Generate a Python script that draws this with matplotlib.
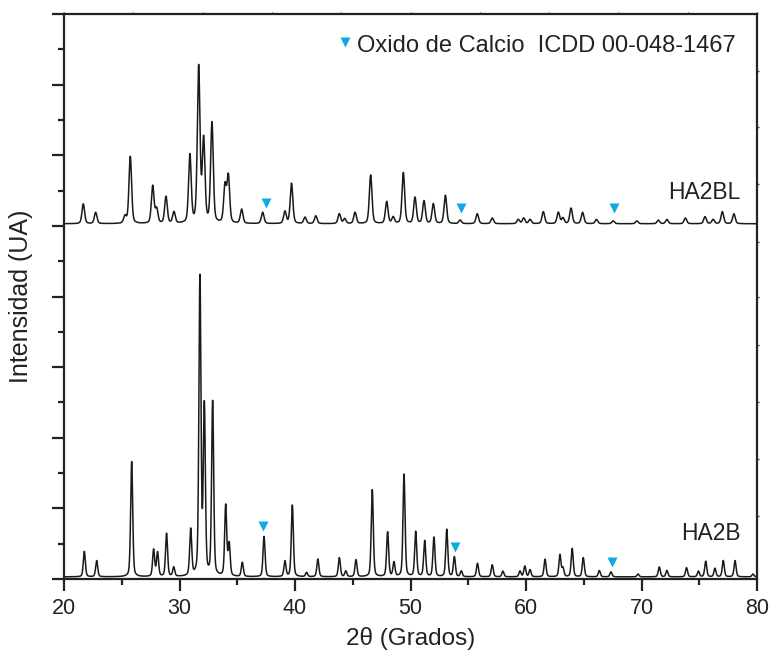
import numpy as np
import matplotlib
matplotlib.use('Agg')
import matplotlib.pyplot as plt
from matplotlib.ticker import MultipleLocator, FixedLocator, NullFormatter

plt.rcParams['font.family'] = ['Liberation Sans', 'DejaVu Sans']

# ---------------- data ----------------
# HA2B (bottom pattern): peak positions (2theta, deg) and heights (a.u.)
ha2b_pos = [21.76, 22.83, 25.86, 27.76, 28.10, 28.88, 29.50, 30.97, 31.77, 32.15,
            32.87, 34.00, 34.30, 35.44, 37.32, 39.13, 39.77, 41.00, 41.98, 43.84,
            44.40, 45.28, 46.69, 48.02, 48.57, 49.44, 50.45, 51.23, 52.03, 53.14,
            53.80, 54.40, 55.80, 57.08, 58.00, 59.48, 59.90, 60.35, 61.65, 62.94,
            63.20, 64.00, 64.96, 66.35, 67.36, 69.70, 71.54, 72.20, 73.90, 74.93,
            75.56, 76.36, 77.08, 78.10, 79.65]
ha2b_int = [0.36, 0.23, 1.63, 0.38, 0.34, 0.61, 0.13, 0.66, 4.24, 2.38,
            2.48, 1.00, 0.45, 0.20, 0.57, 0.22, 1.02, 0.06, 0.25, 0.27,
            0.08, 0.24, 1.24, 0.63, 0.20, 1.45, 0.64, 0.51, 0.56, 0.67,
            0.28, 0.08, 0.19, 0.17, 0.08, 0.08, 0.15, 0.10, 0.25, 0.31,
            0.12, 0.40, 0.27, 0.09, 0.07, 0.04, 0.14, 0.09, 0.13, 0.08,
            0.22, 0.12, 0.23, 0.23, 0.04]

# HA2BL (top pattern, stacked)
ha2bl_pos = [21.67, 22.74, 25.28, 25.74, 27.68, 28.02, 28.83, 29.52, 30.90, 31.66,
             32.09, 32.81, 33.94, 34.23, 35.38, 37.20, 39.13, 39.70, 40.87, 41.80,
             43.84, 44.30, 45.20, 46.55, 47.94, 48.50, 49.38, 50.39, 51.17, 51.98,
             53.02, 54.30, 55.78, 57.08, 59.33, 59.80, 60.35, 61.50, 62.80, 63.20,
             63.90, 64.90, 66.10, 67.55, 69.60, 71.46, 72.20, 73.80, 75.50, 76.20,
             77.00, 78.00]
ha2bl_int = [0.28, 0.16, 0.10, 0.95, 0.53, 0.20, 0.38, 0.16, 0.96, 2.20,
             1.16, 1.42, 0.52, 0.66, 0.20, 0.16, 0.17, 0.57, 0.09, 0.11,
             0.14, 0.07, 0.16, 0.69, 0.31, 0.09, 0.72, 0.37, 0.32, 0.28,
             0.40, 0.05, 0.14, 0.08, 0.06, 0.08, 0.06, 0.17, 0.16, 0.08,
             0.22, 0.16, 0.06, 0.04, 0.04, 0.05, 0.06, 0.08, 0.10, 0.06,
             0.17, 0.14]

baseline_ha2b = 0.03
offset_ha2bl = 5.03

# CaO (ICDD 00-048-1467) reflection markers
cao_ha2b_x = [37.25, 53.85, 67.45]
cao_ha2b_y = [0.75, 0.45, 0.24]
cao_ha2bl_x = [37.45, 54.35, 67.65]
cao_ha2bl_y = [5.33, 5.25, 5.25]

series_labels = ['HA2B', 'HA2BL']
legend_label = 'Oxido de Calcio  ICDD 00-048-1467'
xlabel = '2θ (Grados)'
ylabel = 'Intensidad (UA)'
xticks = [20, 30, 40, 50, 60, 70, 80]

# ---------------- profile builder ----------------
def pattern(x, pos, inten, fwhm, base, eta=0.35):
    y = np.full_like(x, base)
    for p, h in zip(pos, inten):
        d = (x - p) / (fwhm / 2.0)
        g = np.exp(-np.log(2) * d ** 2)
        lo = 1.0 / (1.0 + d ** 2)
        y += h * (eta * lo + (1 - eta) * g)
    return y

tt = np.arange(20.0, 80.0001, 0.02)
y_ha2b = pattern(tt, ha2b_pos, ha2b_int, 0.21, baseline_ha2b)
y_ha2bl = pattern(tt, ha2bl_pos, ha2bl_int, 0.27, offset_ha2bl)

# ---------------- figure ----------------
W, H = 772, 660
fig = plt.figure(figsize=(W / 100, H / 100), dpi=100)
ax = fig.add_axes([64 / W, 1 - 579 / H, (757 - 64) / W, (579 - 14) / H])

ax.plot(tt, y_ha2b, color='#1a1a1a', lw=1.1)
ax.plot(tt, y_ha2bl, color='#1a1a1a', lw=1.1)

cyan = '#12A8E0'
ax.plot(cao_ha2b_x, cao_ha2b_y, 'v', color=cyan, ms=7.5, mec='none')
ax.plot(cao_ha2bl_x, cao_ha2bl_y, 'v', color=cyan, ms=7.5, mec='none')

ax.set_xlim(20, 80)
ax.set_ylim(0, 8)

for s in ax.spines.values():
    s.set_linewidth(1.6)
    s.set_color('#222222')

ax.xaxis.set_major_locator(FixedLocator(xticks))
ax.xaxis.set_minor_locator(MultipleLocator(5))
ax.yaxis.set_major_locator(MultipleLocator(1))
ax.yaxis.set_minor_locator(MultipleLocator(0.5))
ax.yaxis.set_major_formatter(NullFormatter())
ax.tick_params(axis='both', which='major', direction='out', length=8.5, width=1.6,
               color='#222222', labelsize=15.5, pad=5)
ax.tick_params(axis='both', which='minor', direction='out', length=4.3, width=1.6,
               color='#222222')
ax.tick_params(axis='x', labelcolor='#222222')

# tiny ticks on top and right frames
sec_top = ax.secondary_xaxis('top')
sec_top.set_xticks(np.arange(20, 81, 6))
sec_top.tick_params(direction='out', length=1.5, width=1.0, color='#444444', labeltop=False)
sec_top.spines['top'].set_visible(False)
sec_r = ax.secondary_yaxis('right')
sec_r.set_yticks([0.89, 1.70, 2.51, 3.31, 4.0, 4.77, 5.59, 6.40, 7.20])
sec_r.tick_params(direction='out', length=1.5, width=1.0, color='#444444', labelright=False)
sec_r.spines['right'].set_visible(False)

ax.set_xlabel(xlabel, fontsize=17.5, color='#222222', labelpad=6)
ax.set_ylabel(ylabel, fontsize=18, color='#222222', labelpad=9)

ax.text(78.6, 5.47, series_labels[1], fontsize=16.5, ha='right', va='center', color='#222222')
ax.text(78.6, 0.65, series_labels[0], fontsize=16.5, ha='right', va='center', color='#222222')

# legend-like annotation
ax.plot([44.35], [7.6], 'v', color=cyan, ms=7.5, mec='none')
ax.text(45.4, 7.55, legend_label, fontsize=17, ha='left', va='center', color='#222222')

fig.savefig('out.png', dpi=100)
